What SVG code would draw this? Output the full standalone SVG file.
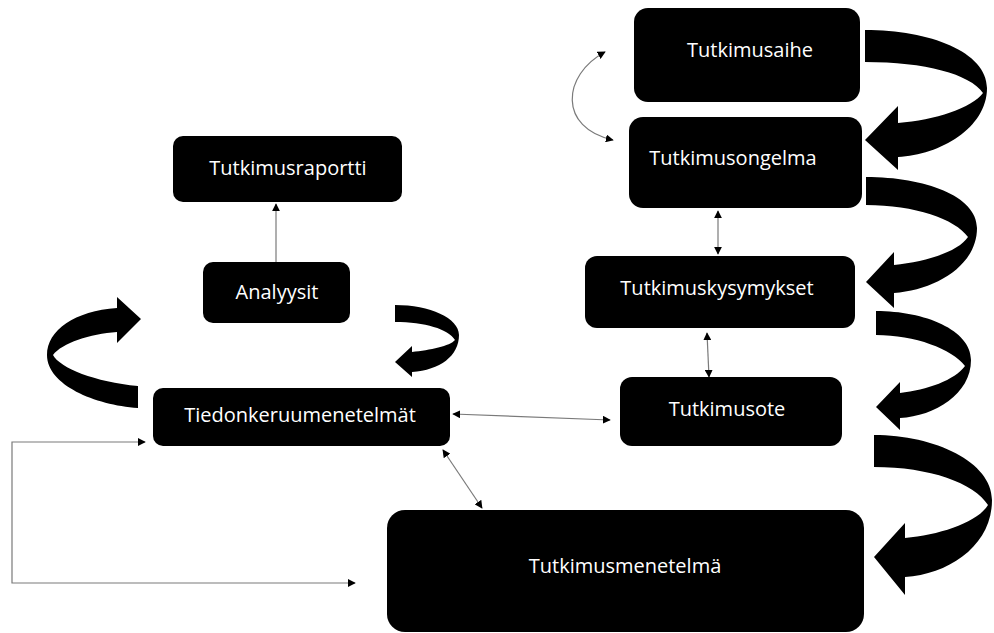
<svg xmlns="http://www.w3.org/2000/svg" width="994" height="633" viewBox="0 0 994 633">
  <defs>
    <style>
      .box { fill: #000; }
      .lbl { fill: #fff; font-family: "Open Sans", "Liberation Sans", sans-serif; font-size: 20px; text-anchor: middle; dominant-baseline: central; }
      .thin { fill: none; stroke: #7a7a7a; stroke-width: 1.2; }
      .bend { fill: #000; }
    </style>
    <marker id="tip" viewBox="0 0 10 10" refX="9" refY="5" markerWidth="8" markerHeight="8" markerUnits="userSpaceOnUse" orient="auto-start-reverse">
      <path d="M0,0 L10,5 L0,10 Z" fill="#000"/>
    </marker>
  </defs>

  <rect width="994" height="633" fill="#fff"/>

  <!-- big curved flow arrows -->
  <g id="flow-arrows">
    <path class="bend" d="M865,30 C930,30 987,52 987,88 C987,128 940,155 898,157 L898,170 L865,140 L898,106 L898,123 C935,120 972,108 983,93 C970,74 925,62 865,62 Z"/>
    <path class="bend" d="M866,177 C925,177 977,196 977,228 C977,266 935,290 894,293 L894,308 L866,282 L894,252 L894,265 C925,262 958,252 968,237 C955,219 915,205 866,205 Z"/>
    <path class="bend" d="M876,311 C925,311 971,330 971,360 C971,394 935,416 900,418 L900,430 L876,407 L900,382 L900,393 C927,390 955,380 965,366 C952,349 915,335 876,335 Z"/>
    <path class="bend" d="M874,435 C935,435 992,462 992,500 C992,545 950,574 905,577 L905,595 L874,557 L905,523 L905,538 C940,535 978,522 988,505 C974,483 930,467 874,467 Z"/>
    <path class="bend" d="M395,305 C430,305 459,318 459,335 C459,356 440,370 412,372 L412,377 L395,362 L412,346 L412,352 C430,350 450,346 455,340 C448,329 425,322 395,322 Z"/>
    <path class="bend" d="M138,386 C95,382 60,368 53,355 C62,343 90,334 117,332 L117,343 L141,319 L117,297 L117,308 C75,311 47,330 47,355 C47,385 95,405 138,408 Z"/>
  </g>

  <!-- thin connectors -->
  <g id="connectors">
    <path class="thin" d="M276,262 L276,204" marker-end="url(#tip)"/>
    <path class="thin" d="M605,52 C562,75 558,128 613,140" marker-start="url(#tip)" marker-end="url(#tip)"/>
    <path class="thin" d="M718,211 L718,254" marker-start="url(#tip)" marker-end="url(#tip)"/>
    <path class="thin" d="M707,333 L709,377" marker-start="url(#tip)" marker-end="url(#tip)"/>
    <path class="thin" d="M453,414 L610,420" marker-start="url(#tip)" marker-end="url(#tip)"/>
    <path class="thin" d="M443,450 L482,508" marker-start="url(#tip)" marker-end="url(#tip)"/>
    <path class="thin" d="M355,583 L12,583 L12,442 L145,442" marker-start="url(#tip)" marker-end="url(#tip)"/>
  </g>

  <!-- nodes -->
  <g id="tutkimusaihe">
    <rect class="box" x="634" y="8" width="226" height="94" rx="14"/>
    <text class="lbl" x="750" y="49">Tutkimusaihe</text>
  </g>
  <g id="tutkimusongelma">
    <rect class="box" x="629" y="117" width="233" height="91" rx="14"/>
    <text class="lbl" x="733" y="157">Tutkimusongelma</text>
  </g>
  <g id="tutkimuskysymykset">
    <rect class="box" x="585" y="256" width="270" height="72" rx="12"/>
    <text class="lbl" x="717" y="287">Tutkimuskysymykset</text>
  </g>
  <g id="tutkimusote">
    <rect class="box" x="620" y="377" width="222" height="69" rx="12"/>
    <text class="lbl" x="727" y="408">Tutkimusote</text>
  </g>
  <g id="tutkimusmenetelma">
    <rect class="box" x="387" y="510" width="477" height="122" rx="18"/>
    <text class="lbl" x="625" y="565">Tutkimusmenetelmä</text>
  </g>
  <g id="tiedonkeruumenetelmat">
    <rect class="box" x="153" y="388" width="297" height="58" rx="10"/>
    <text class="lbl" x="300" y="414">Tiedonkeruumenetelmät</text>
  </g>
  <g id="analyysit">
    <rect class="box" x="203" y="262" width="147" height="61" rx="10"/>
    <text class="lbl" x="277" y="291">Analyysit</text>
  </g>
  <g id="tutkimusraportti">
    <rect class="box" x="173" y="136" width="229" height="66" rx="10"/>
    <text class="lbl" x="288" y="167">Tutkimusraportti</text>
  </g>
</svg>
